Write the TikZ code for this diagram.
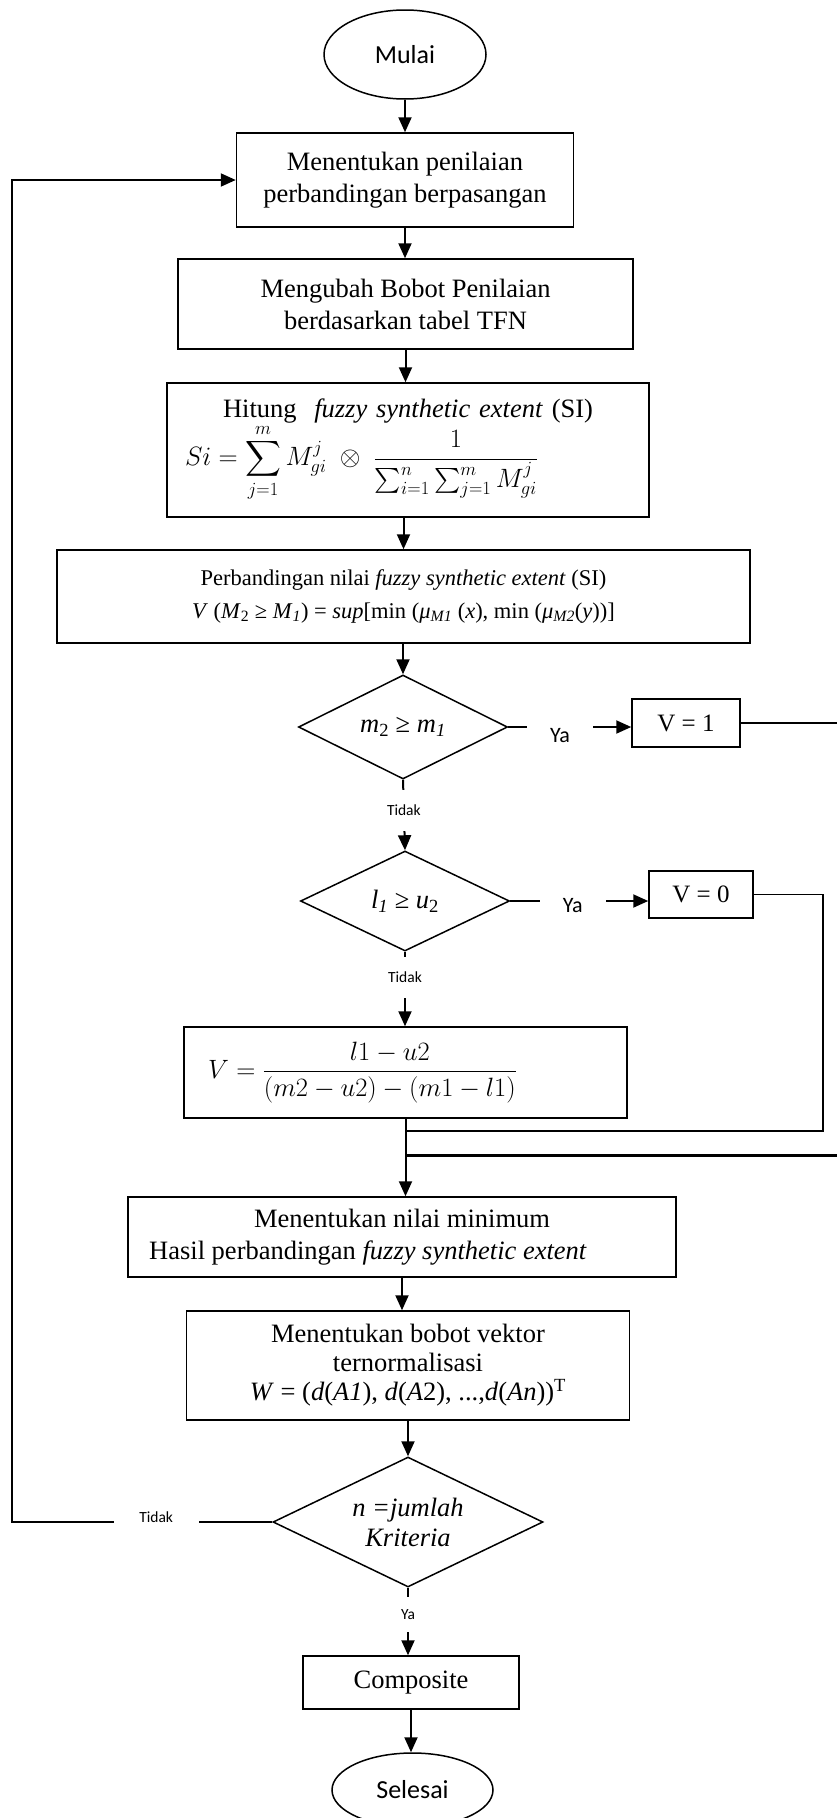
\RequirePackage{fix-cm}
\documentclass[tikz,border=0pt]{standalone}
\usepackage{amsmath}
\usepackage{fontspec}
\setmainfont{Liberation Serif}
\newfontfamily\calib{Carlito}
\usetikzlibrary{shapes.geometric,arrows.meta}

\tikzset{
  box/.style={draw, line width=1.5pt, rectangle, inner sep=0pt, align=center,
              font=\fontsize{26.5}{32}\selectfont},
  term/.style={draw, line width=1.5pt, ellipse, inner sep=0pt,
               font=\calib\fontsize{26}{31}\selectfont},
  dec/.style={draw, line width=1.5pt, diamond, aspect=2, inner sep=0pt, align=center,
              font=\fontsize{26.5}{30}\selectfont},
  arr/.style={line width=2pt, -{Triangle[length=15pt,width=13pt]}},
  link/.style={line width=1.5pt},
  lblv/.style={fill=white, inner sep=0pt, minimum width=34pt,
               font=\calib\fontsize{15.5}{18}\selectfont},
  lblh/.style={fill=white, inner sep=0pt, minimum height=34pt,
               font=\calib\fontsize{22}{26}\selectfont},
}

\begin{document}
\begin{tikzpicture}[x=1pt,y=-1pt]
\useasboundingbox (0,0) rectangle (837,1818);

% main column
\node[term, minimum width=162pt, minimum height=89pt] (start) at (405,54.5) {Mulai};

\node[box, minimum width=337pt, minimum height=94pt] (b1) at (405,180)
  {Menentukan penilaian\\perbandingan berpasangan};

\node[box, minimum width=455pt, minimum height=90pt] (b2) at (405.5,304)
  {Mengubah Bobot Penilaian\\berdasarkan tabel TFN};

\node[box, minimum width=482pt, minimum height=134pt, text width=446pt, align=left] (b3) at (408,450)
  {\makebox[446pt][c]{Hitung~ \textit{fuzzy synthetic extent} (SI)}\\
   $\displaystyle Si = \sum_{j=1}^{m} M_{gi}^{j} \;\otimes\; \frac{1}{\sum_{i=1}^{n}\sum_{j=1}^{m} M_{gi}^{j}}$};

\node[box, minimum width=693pt, minimum height=93pt, font=\fontsize{22.5}{33}\selectfont] (b4) at (403.5,596.5)
  {Perbandingan nilai \textit{fuzzy synthetic extent} (SI)\\
   \textit{V} (\textit{M}\textsubscript{2} ≥ \textit{M}\textsubscript{\textit{1}}) = \textit{sup}[min (\textit{μ}\textsubscript{\textit{M1}} (\textit{x}), min (\textit{μ}\textsubscript{\textit{M2}}(\textit{y}))]};

\node[dec, minimum width=209pt, minimum height=104pt] (d1) at (403,727)
  {\textit{m}\textsubscript{2} ≥ \textit{m}\textsubscript{\textit{1}}};
\node[box, minimum width=108pt, minimum height=48pt, font=\fontsize{25}{30}\selectfont] (v1) at (686,723) {V = 1};

\node[dec, minimum width=209pt, minimum height=100pt] (d2) at (405,901)
  {\textit{l}\textsubscript{\textit{1}} ≥ \textit{u}\textsubscript{2}};
\node[box, minimum width=104pt, minimum height=47pt, font=\fontsize{25}{30}\selectfont] (v0) at (701,894.5) {V = 0};

\node[box, minimum width=443pt, minimum height=91pt, text width=395pt, align=left] (b5) at (405.5,1072.5)
  {$V = \dfrac{l1 - u2}{(m2 - u2) - (m1 - l1)}$};

\node[box, minimum width=548pt, minimum height=80pt] (b6) at (402,1237)
  {Menentukan nilai minimum\\
   Hasil perbandingan \textit{fuzzy synthetic extent}\hspace*{68pt}\mbox{}};

\node[box, minimum width=443pt, minimum height=109pt, font=\fontsize{26.5}{29}\selectfont] (b7) at (408,1365.5)
  {Menentukan bobot vektor\\ternormalisasi\\
   \textit{W} = (\textit{d}(\textit{A1}), \textit{d}(\textit{A}2), ...,\textit{d}(\textit{An}))\textsuperscript{T}};

\node[dec, minimum width=270pt, minimum height=130pt] (d3) at (408,1522)
  {\textit{n =jumlah}\\\textit{Kriteria}};

\node[box, minimum width=216pt, minimum height=53pt] (b8) at (411,1682.5) {Composite};

\node[term, minimum width=161pt, minimum height=74pt] (stop) at (412.5,1790) {Selesai};

% helper points for the routed lines
\coordinate (lx) at (12,0);
\coordinate (r0) at (823,0);
\coordinate (r1) at (850,0);
\path (b5.south) ++(0,12) coordinate (j0) ++(0,25) coordinate (j1);

% straight flow
\draw[arr] (start.south) -- (start.south |- b1.north);
\draw[arr] (b1.south) -- (b1.south |- b2.north);
\draw[arr] (b2.south) -- (b2.south |- b3.north);
\draw[arr] (b3.south -| b4.north) -- (b4.north);
\draw[arr] (b4.south -| d1.north) -- (d1.north);
\draw[arr] (d1.south) -- (d2.north)
  node[pos=0.432, lblv, minimum height=41pt] {Tidak};
\draw[arr] (d2.south) -- (d2.south |- b5.north)
  node[pos=0.34, lblv, minimum height=41pt] {Tidak};
\draw[arr] (b5.south) -- (b5.south |- b6.north);
\draw[arr] (b6.south) -- (b6.south |- b7.north);
\draw[arr] (b7.south -| d3.north) -- (d3.north);
\draw[arr] (d3.south) -- (d3.south |- b8.north)
  node[pos=0.40, lblv, minimum height=35pt] {Ya};
\draw[arr] (b8.south) -- (b8.south |- stop.north);

% branches to V = 1 and V = 0
\draw[arr] (d1.east) -- (d1.east -| v1.west)
  node[pos=0.42, lblh, minimum width=66pt, yshift=-9pt] {Ya};
\draw[arr] (d2.east) -- (d2.east -| v0.west)
  node[pos=0.453, lblh, minimum width=66pt, yshift=-5pt] {Ya};

% returns into the main column
\draw[link] (v0.east) -- (v0.east -| r0) -- (r0 |- j0) -- (j0);
\draw[link] (v1.east) -- (v1.east -| r1) -- (r1 |- j1);
\draw[line width=3pt] (r1 |- j1) -- (j1);

% loop back when the criteria are not finished
\draw[arr] (d3.west) -- (d3.west -| lx)
  node[pos=0.446, lblv, minimum width=85pt, minimum height=24pt, yshift=5pt] {Tidak}
  -- (b1.west -| lx) -- (b1.west);
\end{tikzpicture}
\end{document}
